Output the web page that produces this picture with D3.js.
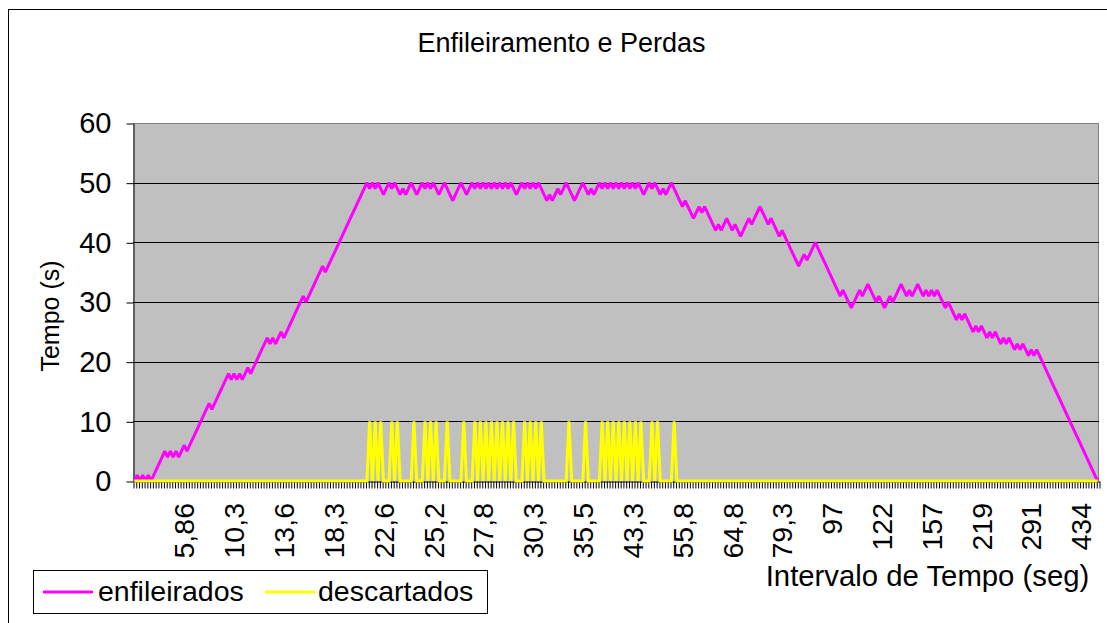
<!DOCTYPE html>
<html>
<head>
<meta charset="utf-8">
<script src="https://cdn.jsdelivr.net/npm/d3@7/dist/d3.min.js"></script>
<style>
  html, body { margin: 0; padding: 0; background: #fff; }
  svg { display: block; font-family: "Liberation Sans", Arial, sans-serif; }
</style>
</head>
<body>
<svg id="chart" width="1107" height="623"></svg>
<script>
// Queue occupancy per time interval
const enfileirados = [
  0,1,0,1,0,1,0,1,2,3,
  4,5,4,5,4,5,4,5,6,5,
  6,7,8,9,10,11,12,13,12,13,
  14,15,16,17,18,17,18,17,18,17,
  18,19,18,19,20,21,22,23,24,23,
  24,23,24,25,24,25,26,27,28,29,
  30,31,30,31,32,33,34,35,36,35,
  36,37,38,39,40,41,42,43,44,45,
  46,47,48,49,50,49,50,49,50,49,
  48,49,50,49,50,49,48,49,48,49,
  50,49,48,49,50,49,50,49,50,49,
  48,49,50,49,48,47,48,49,50,49,
  48,49,50,49,50,49,50,49,50,49,
  50,49,50,49,50,49,50,49,48,49,
  50,49,50,49,50,49,50,49,48,47,
  48,47,48,49,48,49,50,49,48,47,
  48,49,50,49,48,49,48,49,50,49,
  50,49,50,49,50,49,50,49,50,49,
  50,49,50,49,48,49,50,49,50,49,
  48,49,48,49,50,49,48,47,46,47,
  46,45,44,45,46,45,46,45,44,43,
  42,43,42,43,44,43,42,43,42,41,
  42,43,44,43,44,45,46,45,44,43,
  44,43,42,41,42,41,40,39,38,37,
  36,37,38,37,38,39,40,39,38,37,
  36,35,34,33,32,31,32,31,30,29,
  30,31,32,31,32,33,32,31,30,31,
  30,29,30,31,30,31,32,33,32,31,
  32,31,32,33,32,31,32,31,32,31,
  32,31,30,29,30,29,28,27,28,27,
  28,27,26,25,26,25,26,25,24,25,
  24,25,24,23,24,23,24,23,22,23,
  22,23,22,21,22,21,22,21,20,19,
  18,17,16,15,14,13,12,11,10,9,
  8,7,6,5,4,3,2,1,0
];

// Dropped packets per time interval
const descartados = [
  0,0,0,0,0,0,0,0,0,0,
  0,0,0,0,0,0,0,0,0,0,
  0,0,0,0,0,0,0,0,0,0,
  0,0,0,0,0,0,0,0,0,0,
  0,0,0,0,0,0,0,0,0,0,
  0,0,0,0,0,0,0,0,0,0,
  0,0,0,0,0,0,0,0,0,0,
  0,0,0,0,0,0,0,0,0,0,
  0,0,0,0,0,10,0,10,0,10,
  0,0,0,10,0,10,0,0,0,0,
  0,10,0,0,0,10,0,10,0,10,
  0,0,0,10,0,0,0,0,0,10,
  0,0,0,10,0,10,0,10,0,10,
  0,10,0,10,0,10,0,10,0,0,
  0,10,0,10,0,10,0,10,0,0,
  0,0,0,0,0,0,0,10,0,0,
  0,0,0,10,0,0,0,0,0,10,
  0,10,0,10,0,10,0,10,0,10,
  0,10,0,10,0,0,0,10,0,10,
  0,0,0,0,0,10,0,0,0,0,
  0,0,0,0,0,0,0,0,0,0,
  0,0,0,0,0,0,0,0,0,0,
  0,0,0,0,0,0,0,0,0,0,
  0,0,0,0,0,0,0,0,0,0,
  0,0,0,0,0,0,0,0,0,0,
  0,0,0,0,0,0,0,0,0,0,
  0,0,0,0,0,0,0,0,0,0,
  0,0,0,0,0,0,0,0,0,0,
  0,0,0,0,0,0,0,0,0,0,
  0,0,0,0,0,0,0,0,0,0,
  0,0,0,0,0,0,0,0,0,0,
  0,0,0,0,0,0,0,0,0,0,
  0,0,0,0,0,0,0,0,0,0,
  0,0,0,0,0,0,0,0,0,0,
  0,0,0,0,0,0,0,0,0
];

// Interval labels shown on the category axis (every 18th interval)
const intervalLabels = ["5,86","10,3","13,6","18,3","22,6","25,2","27,8","30,3","35,5",
                        "43,3","55,8","64,8","79,3","97","122","157","219","291","434"];
const labelStep = 18;

const yTicks = [0, 10, 20, 30, 40, 50, 60];

const seriesNames = ["enfileirados", "descartados"];
const seriesColors = ["#FF00FF", "#FFFF00"];

const svg = d3.select("#chart");
const plot = { left: 133, right: 1099, top: 123, bottom: 481 };
const N = enfileirados.length;

// outer chart frame
svg.append("rect")
  .attr("x", 8.5).attr("y", 9.5)
  .attr("width", 1200).attr("height", 700)
  .attr("fill", "#fff").attr("stroke", "#000").attr("stroke-width", 1);

const x = d3.scaleBand().domain(d3.range(N)).range([plot.left, plot.right]).paddingInner(0).paddingOuter(0);
const xEdge = d3.scaleLinear().domain([0, N]).range([plot.left, plot.right]);
const y = d3.scaleLinear().domain([0, 60]).range([plot.bottom, plot.top]);
const cx = i => x(i) + x.bandwidth() / 2;

// plot area
svg.append("rect")
  .attr("x", plot.left).attr("y", plot.top)
  .attr("width", plot.right - plot.left).attr("height", plot.bottom - plot.top)
  .attr("fill", "#C0C0C0");
svg.append("path")
  .attr("d", `M${plot.left},${plot.top + 0.5}H${plot.right - 0.5}V${plot.bottom}`)
  .attr("fill", "none").attr("stroke", "#808080").attr("stroke-width", 1);

// horizontal gridlines
svg.append("g").selectAll("line")
  .data(yTicks.filter(t => t > 0 && t < 60))
  .join("line")
  .attr("x1", plot.left).attr("x2", plot.right)
  .attr("y1", d => Math.round(y(d)) + 0.5).attr("y2", d => Math.round(y(d)) + 0.5)
  .attr("stroke", "#000").attr("stroke-width", 1);

// y axis
const yAxis = svg.append("g")
  .attr("transform", `translate(${plot.left + 0.5},0.5)`)
  .call(d3.axisLeft(y).tickValues(yTicks).tickSize(7).tickPadding(15).tickSizeOuter(0));
yAxis.select(".domain").attr("stroke", "#000");
yAxis.selectAll(".tick line").attr("stroke", "#000");
yAxis.selectAll(".tick text")
  .attr("font-size", 29).attr("font-family", "Liberation Sans, Arial, sans-serif")
  .attr("fill", "#000");

// x axis: tick marks between every interval
const xAxis = svg.append("g")
  .attr("transform", `translate(0.5,${plot.bottom + 0.5})`)
  .call(d3.axisBottom(xEdge).tickValues(d3.range(N + 1)).tickSize(7).tickFormat("").tickSizeOuter(0));
xAxis.select(".domain").attr("stroke", "#000");
xAxis.selectAll(".tick line").attr("stroke", "#000").attr("stroke-width", 1);

// rotated interval labels
svg.append("g").selectAll("text")
  .data(intervalLabels)
  .join("text")
  .attr("transform", (d, k) => `translate(${cx((k + 1) * labelStep)},503) rotate(-90)`)
  .attr("dy", "0.36em")
  .attr("text-anchor", "end")
  .attr("font-size", 28.5)
  .attr("fill", "#000")
  .text(d => d);

// series lines
const line = d3.line().x((d, i) => cx(i)).y(d => y(d)).curve(d3.curveLinear);
[enfileirados, descartados].forEach((s, k) => {
  svg.append("path")
    .datum(s)
    .attr("d", line)
    .attr("fill", "none")
    .attr("stroke", seriesColors[k])
    .attr("stroke-width", 3)
    .attr("stroke-linejoin", "miter")
    .attr("stroke-miterlimit", 2);
});

// titles
svg.append("text")
  .attr("x", 561.5).attr("y", 52)
  .attr("text-anchor", "middle").attr("font-size", 27)
  .text("Enfileiramento e Perdas");
svg.append("text")
  .attr("transform", "translate(59,316) rotate(-90)")
  .attr("text-anchor", "middle").attr("font-size", 25)
  .text("Tempo (s)");
svg.append("text")
  .attr("x", 927.5).attr("y", 586)
  .attr("text-anchor", "middle").attr("font-size", 29.3)
  .text("Intervalo de Tempo (seg)");

// legend
const legend = svg.append("g");
legend.append("rect")
  .attr("x", 33.5).attr("y", 570.5).attr("width", 454).attr("height", 43)
  .attr("fill", "#fff").attr("stroke", "#000");
const legendItems = [{ x: 43, tx: 98 }, { x: 265, tx: 318 }];
legendItems.forEach((it, k) => {
  legend.append("line")
    .attr("x1", it.x).attr("x2", it.x + 50)
    .attr("y1", 592).attr("y2", 592)
    .attr("stroke", seriesColors[k]).attr("stroke-width", 3);
  legend.append("text")
    .attr("x", it.tx).attr("y", 601)
    .attr("font-size", 28.5)
    .text(seriesNames[k]);
});
</script>
</body>
</html>
